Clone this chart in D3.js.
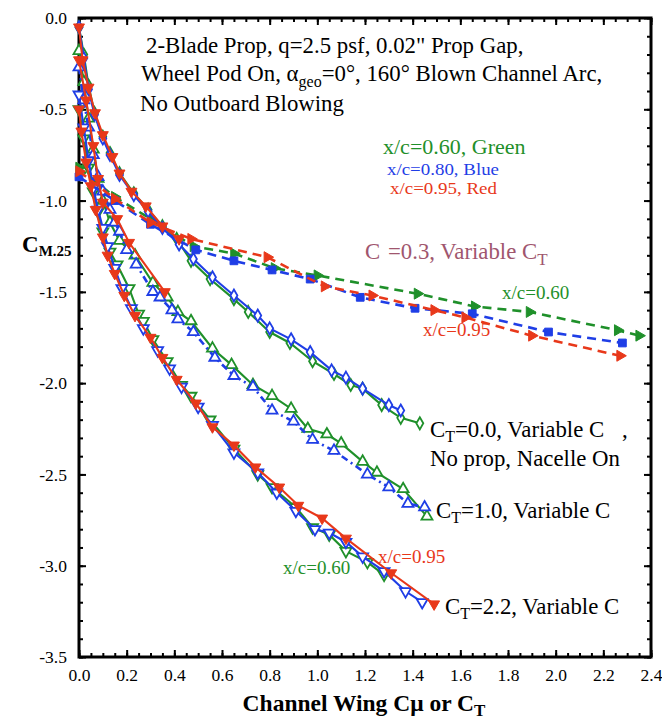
<!DOCTYPE html>
<html><head><meta charset="utf-8">
<script src="https://cdn.jsdelivr.net/npm/d3@7"></script>
<style>body{margin:0;background:#fff}svg text{font-family:"Liberation Serif","Times New Roman",serif}</style>
</head><body><svg id="c" width="662" height="721" font-family="Liberation Serif"></svg>
<script>
// ---------- data ----------
const xTickValues = [0.0,0.2,0.4,0.6,0.8,1.0,1.2,1.4,1.6,1.8,2.0,2.2,2.4];
const yTickValues = [0.0,-0.5,-1.0,-1.5,-2.0,-2.5,-3.0,-3.5];

// CT = 0.0, variable Cmu (no prop, nacelle on)
const ct0Green = [[0,-0.05],[0.02,-0.2],[0.04,-0.37],[0.065,-0.52],[0.1,-0.65],[0.13,-0.74],[0.17,-0.85],[0.23,-0.96],[0.29,-1.05],[0.35,-1.14],[0.41,-1.21],[0.47,-1.33],[0.55,-1.43],[0.65,-1.54],[0.71,-1.61],[0.80,-1.72],[0.885,-1.78],[0.98,-1.88],[1.07,-1.95],[1.14,-2.01],[1.19,-2.03],[1.27,-2.12],[1.35,-2.19],[1.43,-2.22]];
const ct0Blue = [[0,-0.05],[0.02,-0.22],[0.04,-0.39],[0.065,-0.53],[0.1,-0.66],[0.13,-0.75],[0.17,-0.86],[0.23,-0.97],[0.29,-1.06],[0.35,-1.15],[0.42,-1.24],[0.48,-1.32],[0.56,-1.42],[0.65,-1.52],[0.75,-1.63],[0.80,-1.70],[0.89,-1.76],[0.97,-1.83],[1.06,-1.93],[1.12,-1.97],[1.19,-2.03],[1.30,-2.12],[1.35,-2.15]];
const ct0Red = [[0,-0.05],[0.015,-0.23],[0.04,-0.38],[0.067,-0.52],[0.1,-0.64],[0.14,-0.76],[0.17,-0.85],[0.22,-0.95],[0.28,-1.03],[0.35,-1.14],[0.42,-1.21]];

// CT = 1.0, variable Cmu
const ct1Green = [[0,-0.18],[0.02,-0.35],[0.04,-0.55],[0.06,-0.72],[0.08,-0.88],[0.1,-1.0],[0.13,-1.12],[0.17,-1.22],[0.235,-1.30],[0.31,-1.45],[0.37,-1.53],[0.415,-1.61],[0.47,-1.66],[0.56,-1.81],[0.64,-1.90],[0.73,-2.01],[0.81,-2.07],[0.89,-2.14],[0.96,-2.25],[1.04,-2.28],[1.10,-2.33],[1.19,-2.43],[1.25,-2.49],[1.36,-2.58],[1.46,-2.73]];
const ct1Blue = [[0,-0.27],[0.02,-0.45],[0.04,-0.6],[0.06,-0.75],[0.08,-0.87],[0.1,-0.95],[0.13,-1.05],[0.15,-1.12],[0.17,-1.17],[0.20,-1.27],[0.24,-1.35],[0.31,-1.50],[0.34,-1.53],[0.39,-1.60],[0.415,-1.65],[0.48,-1.72],[0.57,-1.86],[0.65,-1.96],[0.73,-2.02],[0.81,-2.15],[0.90,-2.21],[0.98,-2.31],[1.07,-2.37],[1.21,-2.50],[1.30,-2.57],[1.38,-2.66],[1.45,-2.68]];
const ct1Red = [[0,-0.23],[0.03,-0.45],[0.06,-0.7],[0.08,-0.88],[0.1,-1.01],[0.16,-1.10],[0.21,-1.23],[0.36,-1.50]];

// CT = 2.2, variable Cmu
const ct22Green = [[0,-0.5],[0.02,-0.66],[0.04,-0.82],[0.06,-0.95],[0.08,-1.06],[0.1,-1.17],[0.13,-1.28],[0.16,-1.35],[0.21,-1.48],[0.25,-1.62],[0.27,-1.66],[0.31,-1.76],[0.37,-1.88],[0.43,-2.01],[0.47,-2.07],[0.55,-2.2],[0.65,-2.36],[0.75,-2.50],[0.81,-2.57],[0.91,-2.68],[0.98,-2.79],[1.05,-2.83],[1.12,-2.92],[1.21,-2.98],[1.28,-3.05]];
const ct22Blue = [[0,-0.42],[0.02,-0.6],[0.04,-0.78],[0.06,-0.93],[0.08,-1.05],[0.1,-1.15],[0.12,-1.25],[0.15,-1.37],[0.18,-1.48],[0.22,-1.59],[0.27,-1.7],[0.33,-1.82],[0.38,-1.92],[0.43,-2.02],[0.5,-2.13],[0.56,-2.23],[0.65,-2.38],[0.75,-2.49],[0.83,-2.6],[0.91,-2.7],[0.99,-2.80],[1.05,-2.82],[1.12,-2.87],[1.19,-2.95],[1.28,-3.03],[1.37,-3.14],[1.44,-3.20]];
const ct22Red = [[0,-0.5],[0.01,-0.62],[0.03,-0.79],[0.05,-0.92],[0.07,-1.05],[0.1,-1.2],[0.12,-1.30],[0.15,-1.40],[0.19,-1.52],[0.235,-1.63],[0.30,-1.75],[0.35,-1.86],[0.41,-1.98],[0.49,-2.11],[0.56,-2.24],[0.65,-2.34],[0.74,-2.46],[0.84,-2.57],[0.92,-2.67],[1.02,-2.74],[1.12,-2.85],[1.31,-3.04],[1.49,-3.21]];

// Cmu = 0.3, variable CT
const cmu03Green = [[0,-0.82],[0.15,-0.98],[0.30,-1.10],[0.48,-1.25],[0.65,-1.29],[0.82,-1.37],[1.00,-1.41],[1.42,-1.51],[1.66,-1.58],[1.89,-1.61],[2.26,-1.71],[2.35,-1.74]];
const cmu03Blue = [[0,-0.87],[0.15,-1.0],[0.30,-1.13],[0.49,-1.27],[0.65,-1.33],[0.81,-1.38],[0.97,-1.43],[1.18,-1.53],[1.41,-1.59],[1.65,-1.62],[1.97,-1.72],[2.28,-1.78]];
const cmu03Red = [[0,-0.84],[0.15,-0.99],[0.30,-1.12],[0.47,-1.21],[0.79,-1.31],[1.03,-1.47],[1.23,-1.52],[1.49,-1.60],[1.62,-1.64],[1.90,-1.74],[2.27,-1.85]];

// ---------- style ----------
const SERIF = "'Liberation Serif', 'Times New Roman', serif";
const GREEN = "#1f902a", BLUE = "#1f3ee6", RED = "#e8381a", MAUVE = "#a0566e";
const series = [
  {d: ct0Green, c: GREEN, dash: null, m: "diamond", fill: false},
  {d: ct1Green, c: GREEN, dash: null, m: "up", fill: false},
  {d: ct22Green, c: GREEN, dash: null, m: "down", fill: false},
  {d: cmu03Green, c: GREEN, dash: "9,6", m: "right", fill: true},
  {d: ct0Blue, c: BLUE, dash: null, m: "diamond", fill: false},
  {d: ct1Blue, c: BLUE, dash: "7,4,2,4", m: "up", fill: false},
  {d: ct22Blue, c: BLUE, dash: null, m: "down", fill: false},
  {d: cmu03Blue, c: BLUE, dash: "9,6", m: "square", fill: true},
  {d: ct0Red, c: RED, dash: null, m: "down", fill: true},
  {d: ct1Red, c: RED, dash: null, m: "down", fill: true},
  {d: ct22Red, c: RED, dash: null, m: "down", fill: true},
  {d: cmu03Red, c: RED, dash: "9,6", m: "right", fill: true}
];

const svg = d3.select("#c");
const x = d3.scaleLinear().domain([0, 2.4]).range([79, 651]);
const y = d3.scaleLinear().domain([0, -3.5]).range([18, 657]);

// axes
function tickRange(a, b, s) { const r = []; for (let i = 0; a + i * s <= b + 1e-9; i++) r.push(+(a + i * s).toFixed(3)); return r; }
const xMinor = tickRange(0, 2.4, 0.05);
const yMinor = tickRange(-3.5, 0, 0.1);
const fmt = d => d3.format(".1f")(d).replace("\u2212", "-");

const gAx = svg.append("g");
gAx.append("g").attr("transform", "translate(0,657)")
  .call(d3.axisBottom(x).tickValues(xTickValues).tickSize(-7).tickPadding(12).tickFormat(fmt));
gAx.append("g").attr("transform", "translate(0,657)")
  .call(d3.axisBottom(x).tickValues(xMinor).tickSize(-4).tickFormat(""));
gAx.append("g").attr("transform", "translate(0,18)")
  .call(d3.axisTop(x).tickValues(xTickValues).tickSize(-7).tickFormat(""));
gAx.append("g").attr("transform", "translate(0,18)")
  .call(d3.axisTop(x).tickValues(xMinor).tickSize(-4).tickFormat(""));
gAx.append("g").attr("transform", "translate(79,0)")
  .call(d3.axisLeft(y).tickValues(yTickValues).tickSize(-7).tickPadding(12).tickFormat(fmt));
gAx.append("g").attr("transform", "translate(79,0)")
  .call(d3.axisLeft(y).tickValues(yMinor).tickSize(-4).tickFormat(""));
gAx.append("g").attr("transform", "translate(651,0)")
  .call(d3.axisRight(y).tickValues(yTickValues).tickSize(-7).tickFormat(""));
gAx.append("g").attr("transform", "translate(651,0)")
  .call(d3.axisRight(y).tickValues(yMinor).tickSize(-4).tickFormat(""));
gAx.selectAll("g").attr("font-family", SERIF);
gAx.selectAll(".domain").remove();
gAx.selectAll(".tick line").attr("stroke", "#000").attr("stroke-width", 2);
gAx.selectAll(".tick text").attr("font-size", 17.5).attr("fill", "#000")
  .attr("font-family", SERIF).style("font-family", SERIF);

// frame
svg.append("rect").attr("x", 79).attr("y", 18).attr("width", 572).attr("height", 639)
  .attr("fill", "none").attr("stroke", "#000").attr("stroke-width", 3);

// lines and markers
const line = d3.line().x(p => x(p[0])).y(p => y(p[1]));
const symTri = d3.symbol().type(d3.symbolTriangle).size(52);
const symDia = d3.symbol().type(d3.symbolDiamond).size(42);
const symSq = d3.symbol().type(d3.symbolSquare).size(60);
const plot = svg.append("g");
series.forEach(s => {
  plot.append("path").attr("d", line(s.d)).attr("fill", "none")
    .attr("stroke", s.c).attr("stroke-width", s.dash ? 2.6 : 2.1)
    .attr("stroke-dasharray", s.dash);
  let path = s.m === "diamond" ? symDia() : s.m === "square" ? symSq() : symTri();
  const rot = s.m === "right" ? 90 : s.m === "down" ? 180 : 0;
  plot.selectAll(null).data(s.d).enter().append("path")
    .attr("d", path)
    .attr("transform", p => `translate(${x(p[0])},${y(p[1])}) rotate(${rot})`)
    .attr("fill", s.fill ? s.c : "#fff")
    .attr("stroke", s.c).attr("stroke-width", s.fill ? 1 : 1.8);
});

// ---------- text ----------
function txt(px, py, size, color, parts, weight) {
  const t = svg.append("text").attr("x", px).attr("y", py).attr("font-size", size)
    .attr("fill", color).attr("font-weight", weight || "normal").attr("font-family", SERIF);
  parts.forEach(p => {
    if (typeof p === "string") t.append("tspan").text(p);
    else {
      const ts = t.append("tspan").text(p.t);
      if (p.dy !== undefined) ts.attr("dy", p.dy);
      if (p.fs !== undefined) ts.attr("font-size", p.fs);
      if (p.x !== undefined) ts.attr("x", p.x);
    }
  });
  return t;
}
txt(146, 53, 22.8, "#000", ["2-Blade Prop, q=2.5 psf, 0.02\" Prop Gap,"]);
txt(141, 81, 22.8, "#000", ["Wheel Pod On, \u03B1", {t: "geo", dy: 6, fs: 16}, {t: "=0\u00B0, 160\u00B0 Blown Channel Arc,", dy: -6, fs: 22.8}]);
txt(140, 111, 22.8, "#000", ["No Outboard Blowing"]);

txt(383, 154, 22, GREEN, ["x/c=0.60, Green"]);
txt(387, 175, 17, BLUE, ["x/c=0.80, Blue"]).attr("textLength", 112).attr("lengthAdjust", "spacingAndGlyphs");
txt(390, 194, 17, RED, ["x/c=0.95, Red"]).attr("textLength", 107).attr("lengthAdjust", "spacingAndGlyphs");

txt(365, 259, 22.8, MAUVE, ["C", {t: "=0.3, Variable C", x: 388}, {t: "T", dy: 6, fs: 17}]);
txt(502, 299, 19, GREEN, ["x/c=0.60"]);
txt(423, 336, 19, RED, ["x/c=0.95"]);

txt(430, 437, 22.8, "#000", ["C", {t: "T", dy: 5, fs: 16}, {t: "=0.0, Variable C", dy: -5, fs: 22.8}, {t: ",", x: 622}]);
txt(430, 466, 22.8, "#000", ["No prop, Nacelle On"]);
txt(436, 518, 22.8, "#000", ["C", {t: "T", dy: 5, fs: 16}, {t: "=1.0, Variable C", dy: -5, fs: 22.8}]);
txt(445, 614, 22.8, "#000", ["C", {t: "T", dy: 5, fs: 16}, {t: "=2.2, Variable C", dy: -5, fs: 22.8}]);
txt(378, 563, 19, RED, ["x/c=0.95"]);
txt(283, 574, 19, GREEN, ["x/c=0.60"]);

// axis titles
txt(22, 252, 23, "#000", ["C", {t: "M.25", dy: 4, fs: 15}], "bold");
const xt = txt(364, 711, 23.5, "#000", ["Channel Wing C", "\u03BC", " or C", {t: "T", dy: 5, fs: 17}], "bold");
xt.attr("text-anchor", "middle");
</script>
</body></html>
